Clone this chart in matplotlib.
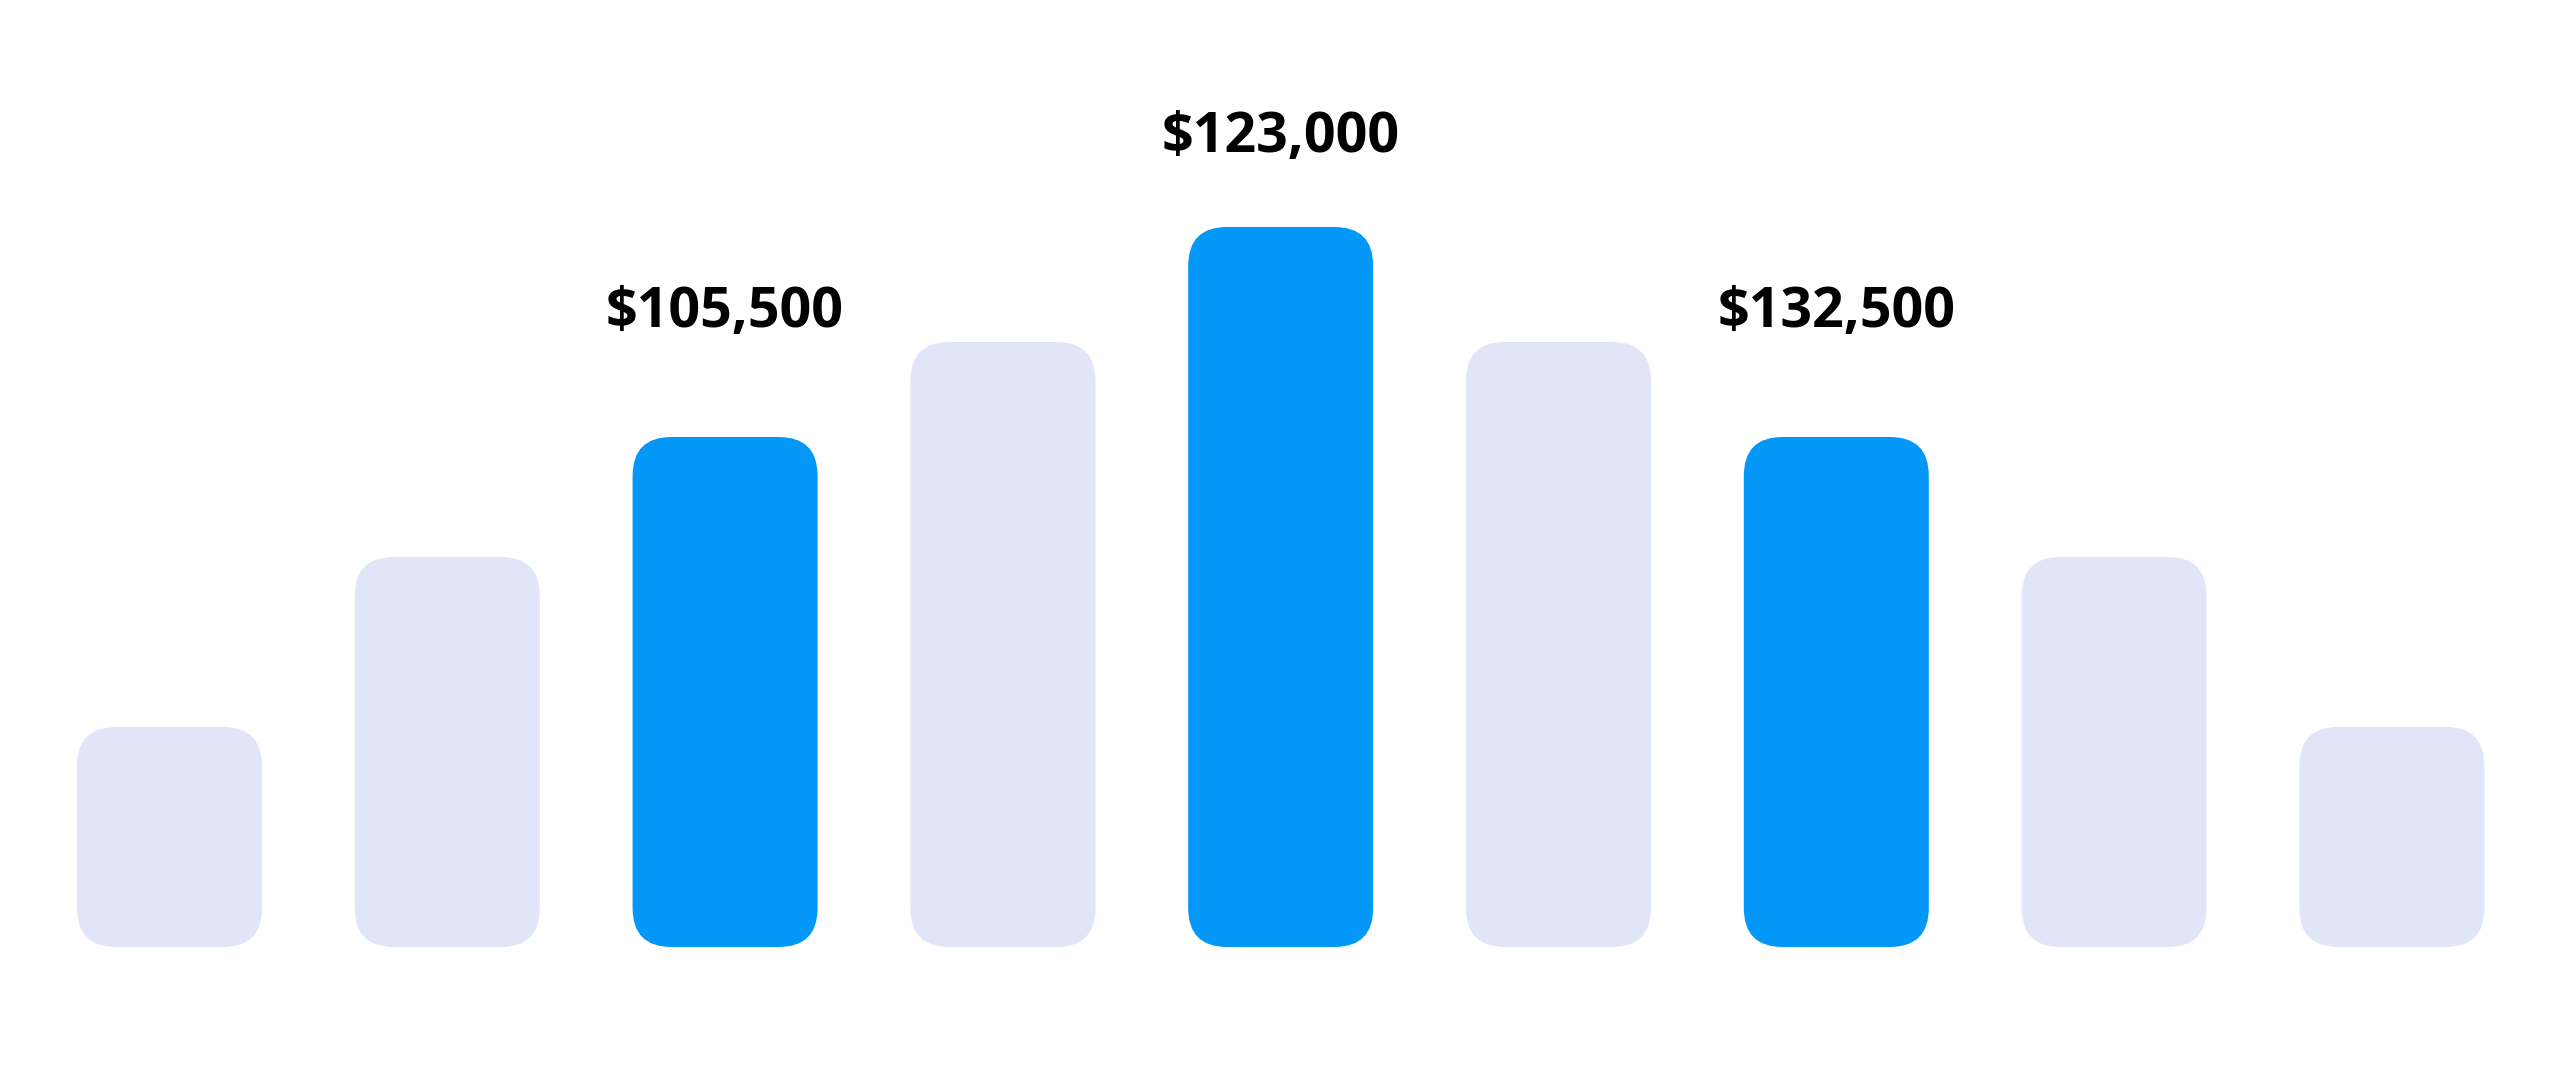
import matplotlib.pyplot as plt
from matplotlib.patches import FancyBboxPatch

# bar heights (relative units)
heights = [220, 390, 510, 605, 720, 605, 510, 390, 220]
highlight = [2, 4, 6]
labels = {2: "$105,500", 4: "$123,000", 6: "$132,500"}

light = "#E1E5F8"
blue = "#0398F7"

px_per_unit = 277.8
bar_w = 0.666
radius = 0.14

fig = plt.figure(figsize=(25.6, 10.67), dpi=100)
ax = fig.add_axes([0, 0, 1, 1])
ax.set_xlim(-169.5 / px_per_unit, (2560 - 169.5) / px_per_unit)
ax.set_ylim(-120, 947)
ax.axis("off")

for i, h in enumerate(heights):
    color = blue if i in highlight else light
    box = FancyBboxPatch((i - bar_w / 2, 0), bar_w, h,
                         boxstyle=f"round,pad=0,rounding_size={radius}",
                         mutation_aspect=px_per_unit,
                         facecolor=color, edgecolor="none")
    ax.add_patch(box)

# label baselines (pixels from top: 327 for side ones, 152 for centre)
label_y = {2: 947 - 327, 4: 947 - 152, 6: 947 - 327}
for i, txt in labels.items():
    ax.text(i, label_y[i], txt, ha="center", va="baseline",
            fontsize=40, fontweight="bold", family="Open Sans", color="#000000")

fig.savefig("out.png", dpi=100, facecolor="white")
